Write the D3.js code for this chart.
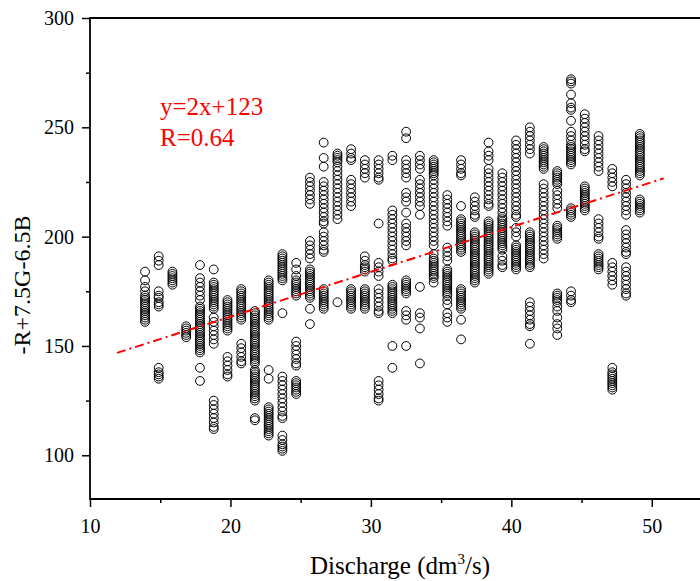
<!DOCTYPE html>
<meta charset="utf-8">
<style>
body{ margin: 0; background: #fff; }
svg text{ font-family: "Liberation Serif", "Times New Roman", serif; }
.frame{ stroke: #000; stroke-width: 1.8; fill: none; }
.tick line{ stroke: #000; stroke-width: 1.5; }
</style>
<div id="chart"></div>
<script src="https://cdn.jsdelivr.net/npm/d3@7"></script>
<script>
// discharge (dm3/s) of each column, as read against the x axis
var discharge = [13.92, 14.89, 15.87, 16.85, 17.83, 18.81, 19.79, 20.77, 21.74, 22.72, 23.70, 24.68, 25.66,
                 26.64, 27.62, 28.59, 29.57, 30.55, 31.53, 32.51, 33.49, 34.47, 35.44, 36.42, 37.40, 38.38,
                 39.36, 40.34, 41.32, 42.30, 43.27, 44.25, 45.23, 46.21, 47.19, 48.17, 49.15]

// -R+7.5G-6.5B, column by column
var colourIndex = [
  [184, 180, 177, 175, 173, 172, 171, 170, 169, 168, 167, 166, 165, 164, 163, 162, 161],
  [191, 189, 187, 175, 173, 172, 170, 169, 168, 140, 138, 137, 136, 135],
  [184, 183, 182, 181, 180, 179, 178],
  [159, 158, 157, 156, 155, 154],
  [187, 181, 179, 177, 175, 173, 171, 168, 167, 166, 165, 164, 163, 162, 161, 160, 159, 158, 157, 156, 155, 154, 153, 152, 151, 150, 149, 148, 147, 140, 134],
  [185, 179, 178, 177, 176, 175, 174, 173, 172, 171, 170, 169, 168, 167, 163, 161, 159, 157, 155, 153, 151, 125, 123, 121, 119, 117, 115, 113, 112],
  [171, 170, 169, 168, 167, 166, 165, 164, 163, 162, 161, 160, 159, 158, 157, 145, 143, 141, 139, 137, 136],
  [176, 175, 174, 173, 172, 171, 170, 169, 168, 167, 166, 165, 164, 163, 162, 151, 149, 147, 145, 143, 142],
  [166, 165, 164, 163, 162, 161, 160, 159, 158, 157, 156, 155, 154, 153, 152, 151, 150, 149, 148, 147, 146, 145, 144, 143, 142, 139, 138, 137, 136, 135, 134, 133, 132, 131, 130, 129, 128, 127, 126, 125, 117, 116],
  [180, 179, 178, 177, 176, 175, 174, 173, 172, 171, 170, 169, 168, 167, 166, 165, 164, 163, 162, 139, 135, 122, 121, 120, 119, 118, 117, 116, 115, 114, 113, 112, 111, 110, 109],
  [192, 191, 190, 189, 188, 187, 186, 185, 184, 183, 182, 181, 180, 165, 136, 134, 132, 130, 128, 126, 124, 122, 120, 118, 117, 109, 107, 105, 104, 103, 102],
  [188, 185, 182, 180, 179, 178, 177, 176, 175, 174, 173, 152, 150, 148, 146, 144, 142, 141, 134, 133, 132, 131, 130, 129, 128],
  [227, 225, 223, 221, 219, 217, 215, 198, 196, 194, 192, 190, 185, 184, 183, 182, 181, 180, 179, 178, 177, 176, 175, 174, 173, 172, 167, 160],
  [243, 236, 232, 225, 223, 221, 219, 217, 215, 213, 211, 209, 207, 206, 202, 200, 198, 196, 194, 193, 176, 175, 174, 173, 172, 171, 170, 169, 168, 167],
  [238, 237, 236, 235, 234, 232, 230, 228, 226, 224, 222, 220, 218, 216, 214, 212, 210, 208, 170],
  [240, 238, 236, 235, 226, 224, 222, 220, 218, 216, 214, 176, 175, 174, 173, 172, 171, 170, 169, 168, 167],
  [235, 233, 231, 229, 227, 191, 189, 187, 186, 185, 184, 176, 175, 174, 173, 172, 171, 170, 169, 168, 167],
  [235, 233, 231, 229, 227, 226, 206, 188, 186, 184, 182, 176, 174, 172, 170, 168, 166, 165, 134, 132, 130, 128, 126, 125],
  [237, 235, 212, 210, 208, 206, 204, 202, 200, 198, 196, 194, 192, 190, 189, 178, 177, 176, 175, 174, 173, 172, 171, 170, 169, 168, 167, 166, 165, 150, 140],
  [248, 245, 235, 233, 231, 229, 227, 220, 218, 216, 211, 206, 204, 202, 200, 198, 196, 180, 179, 178, 177, 176, 175, 174, 166, 164, 162, 150],
  [237, 235, 233, 231, 226, 224, 222, 220, 218, 216, 214, 210, 177, 165, 163, 158, 142],
  [235, 234, 233, 232, 231, 230, 229, 228, 226, 224, 222, 220, 218, 216, 214, 212, 210, 208, 206, 204, 202, 200, 198, 196, 192, 190, 189, 188, 187, 186, 185, 184, 183, 182, 181, 179],
  [219, 217, 215, 213, 211, 209, 207, 205, 195, 193, 191, 189, 185, 184, 183, 182, 181, 180, 179, 178, 177, 176, 175, 174, 173, 171, 169, 165, 163, 161],
  [235, 233, 231, 229, 228, 214, 208, 207, 206, 205, 204, 203, 202, 201, 200, 199, 198, 197, 196, 195, 194, 193, 176, 175, 174, 173, 172, 171, 170, 169, 168, 167, 162, 153],
  [218, 216, 214, 212, 210, 209, 202, 201, 200, 199, 198, 197, 196, 195, 194, 193, 192, 191, 190, 189, 188, 187, 186, 185, 184, 183, 182, 181, 180, 179],
  [243, 239, 237, 235, 231, 229, 227, 225, 223, 221, 219, 217, 215, 214, 207, 206, 205, 204, 203, 202, 201, 200, 199, 198, 197, 196, 195, 194, 193, 192, 191, 190, 189, 188, 187, 186, 185, 184, 183],
  [229, 227, 225, 223, 221, 219, 217, 215, 213, 211, 209, 208, 207, 206, 205, 204, 203, 202, 201, 200, 199, 198, 197, 196, 195, 194, 191, 189, 187, 186],
  [244, 242, 240, 238, 236, 234, 232, 230, 228, 226, 224, 222, 220, 218, 216, 214, 212, 210, 209, 204, 202, 200, 196, 195, 194, 193, 192, 191, 190, 189, 188, 187, 186, 185],
  [250, 248, 246, 244, 242, 240, 238, 202, 201, 200, 199, 198, 197, 196, 195, 194, 193, 192, 191, 190, 189, 188, 187, 186, 170, 168, 166, 164, 162, 160, 159, 151],
  [241, 240, 239, 238, 237, 236, 235, 234, 233, 232, 231, 224, 222, 220, 218, 216, 214, 212, 210, 208, 206, 204, 202, 200, 198, 196, 194, 192, 190],
  [230, 229, 228, 227, 226, 225, 224, 221, 219, 217, 215, 213, 205, 204, 203, 202, 201, 200, 199, 174, 173, 172, 171, 170, 168, 166, 163, 160, 158, 155],
  [272, 271, 270, 265, 261, 259, 258, 253, 248, 246, 244, 242, 241, 240, 239, 238, 237, 236, 235, 234, 233, 213, 212, 211, 210, 209, 175, 173, 171, 170],
  [256, 254, 252, 250, 248, 246, 244, 242, 240, 239, 223, 222, 221, 220, 219, 218, 217, 216, 215, 214, 213, 212],
  [246, 244, 242, 240, 238, 236, 234, 232, 230, 208, 206, 204, 202, 200, 199, 192, 191, 190, 189, 188, 187, 186, 185],
  [231, 229, 227, 225, 223, 188, 186, 184, 182, 180, 178, 140, 138, 137, 136, 135, 134, 133, 132, 131, 130],
  [226, 224, 222, 220, 218, 216, 214, 212, 210, 203, 201, 199, 197, 195, 193, 192, 186, 184, 182, 180, 178, 176, 174, 173],
  [247, 246, 245, 244, 243, 242, 241, 240, 239, 238, 237, 236, 235, 234, 233, 232, 231, 230, 229, 228, 217, 216, 215, 214, 213, 212, 211]
]

var xMajor = [10, 20, 30, 40, 50]
var xMinor = [15, 25, 35, 45, 55]
var yMajor = [100, 150, 200, 250, 300]
var yMinor = [125, 175, 225, 275]

// fitted line (unrounded) and its printed labels
var fitSlope = 2.05, fitIntercept = 122.4
var fitFrom = 11.92, fitTo = 50.85
var fitLabels = ['y=2x+123', 'R=0.64']

var width = 700, height = 581
var x = d3.scaleLinear().domain([10, 55]).range([90, 722])
var y = d3.scaleLinear().domain([80, 300]).range([499, 18])

var svg = d3.select('#chart').append('svg')
    .attr('width', width)
    .attr('height', height)

var points = []
discharge.forEach(function(q, i){
  colourIndex[i].forEach(function(v){ points.push({q: q, v: v}) })
})

svg.append('g')
  .selectAll('circle')
  .data(points)
  .join('circle')
    .attr('cx', function(d){ return x(d.q) })
    .attr('cy', function(d){ return y(d.v) })
    .attr('r', 4.4)
    .attr('fill', 'none')
    .attr('stroke', '#000')
    .attr('stroke-width', 1)

svg.append('line')
    .attr('x1', x(fitFrom)).attr('y1', y(fitSlope*fitFrom + fitIntercept))
    .attr('x2', x(fitTo)).attr('y2', y(fitSlope*fitTo + fitIntercept))
    .attr('stroke', '#ff0000')
    .attr('stroke-width', 2)
    .attr('stroke-dasharray', '9,4,2,4')

svg.selectAll('.fitlabel')
  .data(fitLabels)
  .join('text')
    .attr('class', 'fitlabel')
    .attr('x', 160)
    .attr('y', function(d, i){ return 115 + i*31 })
    .attr('fill', '#ff0000')
    .style('font-size', '25px')
    .text(function(d){ return d })

// axes
var bottom = svg.append('g').attr('transform', 'translate(0,' + y.range()[0] + ')')
bottom.call(d3.axisBottom(x).tickValues(xMajor).tickSize(8).tickSizeOuter(0).tickPadding(12))
bottom.append('g').call(d3.axisBottom(x).tickValues(xMinor).tickSize(4).tickSizeOuter(0).tickFormat(''))

var left = svg.append('g').attr('transform', 'translate(' + x.range()[0] + ',0)')
left.call(d3.axisLeft(y).tickValues(yMajor).tickSize(8).tickSizeOuter(0).tickPadding(8))
left.append('g').call(d3.axisLeft(y).tickValues(yMinor).tickSize(4).tickSizeOuter(0).tickFormat(''))

svg.selectAll('.domain').remove()
svg.selectAll('.tick text')
    .attr('fill', '#000')
    .style('font-size', '20px')
    .style('font-family', '"Liberation Serif", serif')

svg.append('path')
    .attr('class', 'frame')
    .attr('d', 'M' + x.range()[1] + ',' + y.range()[1] + 'H' + x.range()[0] + 'V' + y.range()[0] + 'H' + x.range()[1])

svg.append('text')
    .attr('x', 400)
    .attr('y', 574)
    .attr('text-anchor', 'middle')
    .style('font-size', '25px')
    .text('Discharge (dm')
  .call(function(t){
    t.append('tspan').attr('dy', -10).style('font-size', '15px').text('3')
    t.append('tspan').attr('dy', 10).text('/s)')
  })

svg.append('text')
    .attr('transform', 'translate(30,285) rotate(-90)')
    .attr('text-anchor', 'middle')
    .style('font-size', '24px')
    .text('-R+7.5G-6.5B')
</script>
